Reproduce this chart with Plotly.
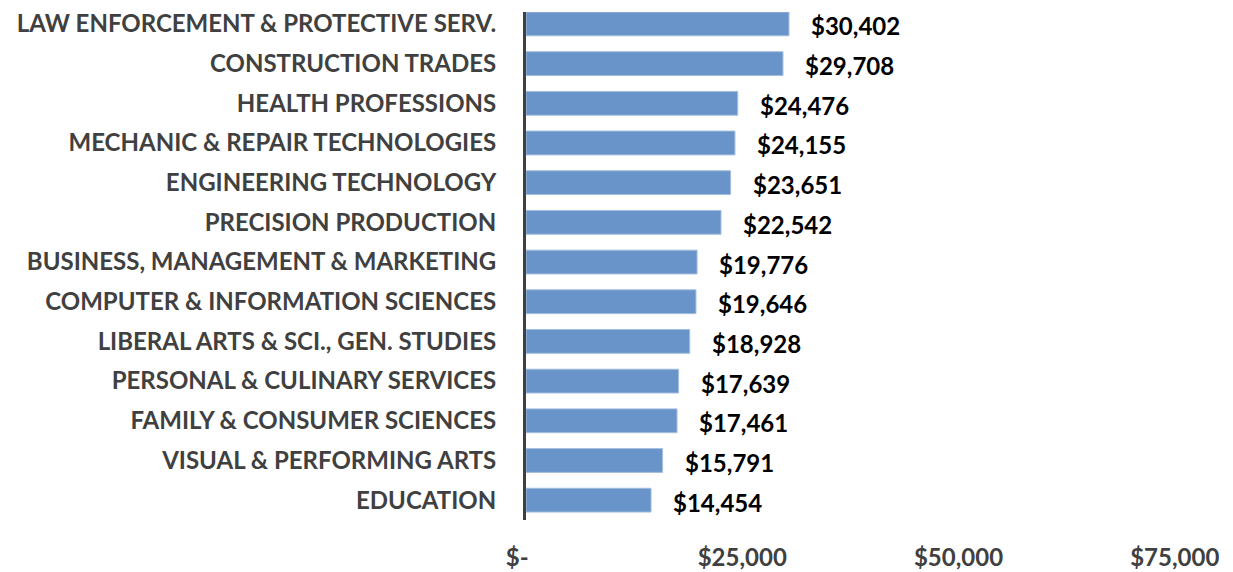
import plotly.graph_objects as go

categories = [
    "LAW ENFORCEMENT & PROTECTIVE SERV.",
    "CONSTRUCTION TRADES",
    "HEALTH PROFESSIONS",
    "MECHANIC & REPAIR TECHNOLOGIES",
    "ENGINEERING TECHNOLOGY",
    "PRECISION PRODUCTION",
    "BUSINESS, MANAGEMENT & MARKETING",
    "COMPUTER & INFORMATION SCIENCES",
    "LIBERAL ARTS & SCI., GEN. STUDIES",
    "PERSONAL & CULINARY SERVICES",
    "FAMILY & CONSUMER SCIENCES",
    "VISUAL & PERFORMING ARTS",
    "EDUCATION",
]
values = [30402, 29708, 24476, 24155, 23651, 22542, 19776, 19646, 18928, 17639, 17461, 15791, 14454]
tick_vals = [0, 25000, 50000, 75000]
tick_text = ["$-\u00a0\u00a0\u00a0", "$25,000", "$50,000", "$75,000"]

FONT = "Lato"

fig = go.Figure()
fig.add_trace(go.Bar(
    x=values,
    y=categories,
    orientation="h",
    width=0.6,
    marker=dict(color="#6894C9", line=dict(color="#A3BEE0", width=1)),
    hoverinfo="skip",
))

for c, v in zip(categories, values):
    fig.add_annotation(
        x=v, y=c, text=f"<b>${v:,}</b>", showarrow=False,
        xanchor="left", xshift=20, yshift=-2,
        font=dict(family=FONT, size=24, color="#000000"),
    )

fig.update_layout(
    width=1225, height=564,
    margin=dict(l=518, r=15, t=0, b=52),
    plot_bgcolor="white", paper_bgcolor="white",
    showlegend=False,
    font=dict(family=FONT),
)
fig.update_yaxes(
    categoryorder="array", categoryarray=categories[::-1],
    range=[-0.5, len(categories) - 0.7],
    showline=True, linecolor="#404040", linewidth=3,
    showgrid=False, ticks="", ticklabelstandoff=22,
    tickfont=dict(family=FONT, size=24, color="#404040", weight="bold"),
)
fig.update_xaxes(
    range=[0, 80000],
    tickvals=tick_vals, ticktext=tick_text,
    showline=False, showgrid=False, zeroline=False, ticks="",
    ticklabelstandoff=21,
    tickfont=dict(family=FONT, size=24, color="#404040", weight="bold"),
)

fig.write_html("out.html")
